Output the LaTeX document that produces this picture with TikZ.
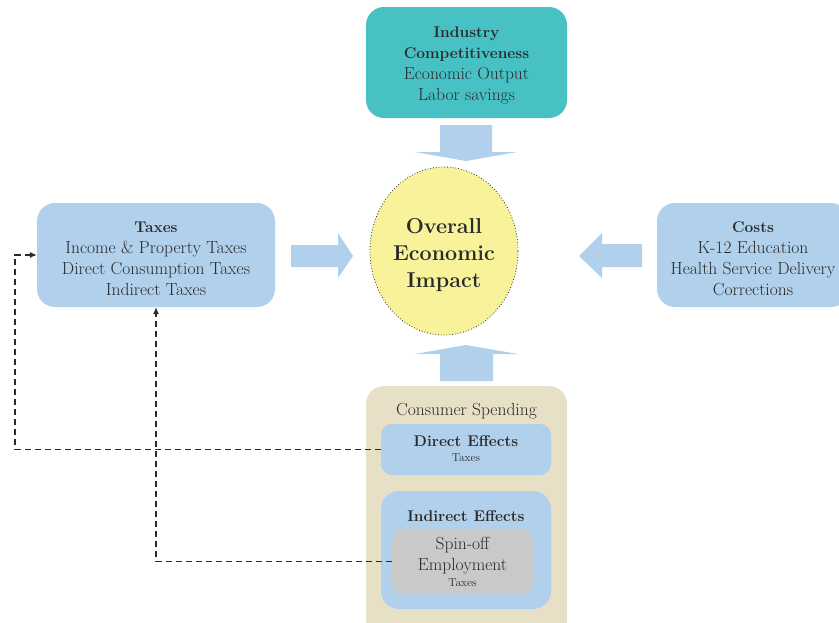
\documentclass[tikz,border=0pt]{standalone}
\usepackage{fontspec}
\usetikzlibrary{positioning,shapes.geometric,arrows.meta}

\definecolor{tealbox}{HTML}{48C1C5}
\definecolor{bluebox}{HTML}{B1D0EB}
\definecolor{tanbox}{HTML}{E8DFC7}
\definecolor{coreyellow}{HTML}{F8F39B}
\definecolor{greybox}{HTML}{C9C9C9}
\definecolor{ink}{HTML}{2A2A2A}

% bold heading line inside a box
\newcommand{\boxhead}[1]{{\fontsize{15.5}{21}\selectfont\bfseries #1}}

\tikzset{
  box/.style={rounded corners=18pt, align=center, text=ink, inner sep=0pt,
    font=\fontsize{17.5}{21}\selectfont},
  smallbox/.style={box, rounded corners=11pt},
  note/.style={text=ink, font=\fontsize{11.5}{14}\selectfont},
  link/.style={draw=ink, line width=1.1pt, dash pattern=on 6pt off 4pt,
    -{Latex[length=7pt,width=6pt]}},
}

\begin{document}
\begin{tikzpicture}[x=1pt,y=-1pt]
      \useasboundingbox (0,0) rectangle (839,622);
      \clip (0,0) rectangle (839,622);

      % the four inputs around the centre
      \node[box, fill=tealbox, minimum width=201pt, minimum height=111pt]
            (industry) at (466.5,62.5) {};
      \node[box] (industrytext) at (466.5,65)
            {\boxhead{Industry}\\ \boxhead{Competitiveness}\\ Economic Output\\ Labor savings};
      \node[box, fill=bluebox, minimum width=238pt, minimum height=104pt]
            (taxes) at (156,255) {};
      \node[box] (taxestext) at (156,259)
            {\boxhead{Taxes}\\ Income \& Property Taxes\\ Direct Consumption Taxes\\ Indirect Taxes};
      \node[box, fill=bluebox, minimum width=192pt, minimum height=104pt]
            (costs) at (753,255) {};
      \node[box] (coststext) at (753,259)
            {\boxhead{Costs}\\ K-12 Education\\ Health Service Delivery\\ Corrections};
      \node[ellipse, fill=coreyellow, draw=ink, dotted, line width=0.8pt,
            minimum width=148pt, minimum height=168pt, inner sep=0pt]
            (impact) at (444,251) {};
      \node[align=center, text=ink, font=\fontsize{21.5}{27}\selectfont\bfseries]
            (impacttext) at (444,255) {Overall\\ Economic\\ Impact};

      % consumer spending and its effects
      \node[box, fill=tanbox, minimum width=201pt, minimum height=260pt]
            (spending) at (466.5,516) {};
      \node[box] (spendlabel) at (466.5,411) {Consumer Spending};
      \node[smallbox, fill=bluebox, minimum width=170pt, minimum height=51pt]
            (direct) at (466,449.5) {};
      \node[box] (directlabel) at (466,441) {\boxhead{Direct Effects}};
      \node[note] (directtax) at (466,458) {Taxes};
      \node[box, fill=bluebox, minimum width=170pt, minimum height=118pt]
            (indirect) at (466,550) {};
      \node[box] (indirectlabel) at (466,516) {\boxhead{Indirect Effects}};
      \node[smallbox, fill=greybox, minimum width=141pt, minimum height=65pt]
            (spinoff) at (462.5,561.5) {};
      \node[box] (spinlabel) at (462.5,556) {Spin-off\\ Employment};
      \node[note] (spintax) at (462.5,583) {Taxes};

      % block arrows into the centre
      \fill[bluebox] (440,125) -- (492,125) -- (492,152) -- (517,152) -- (466,161)
            -- (415,152) -- (440,152) -- cycle;
      \fill[bluebox] (440,381) -- (440,354) -- (415,354) -- (466,345) -- (518,354)
            -- (493,354) -- (493,381) -- cycle;
      \fill[bluebox] (291,245) -- (338,245) -- (338,233) -- (353,256) -- (338,278)
            -- (338,267) -- (291,267) -- cycle;
      \fill[bluebox] (642,244) -- (602,244) -- (602,233) -- (579,256) -- (602,278)
            -- (602,267) -- (642,267) -- cycle;

      % tax feedback loops
      \coordinate (loopleft) at (15,449.5);
      \draw[link] (direct.west) -- (loopleft) |- (taxes.west);
      \draw[link] (spinoff.west) -| (taxes.south);
\end{tikzpicture}
\end{document}
